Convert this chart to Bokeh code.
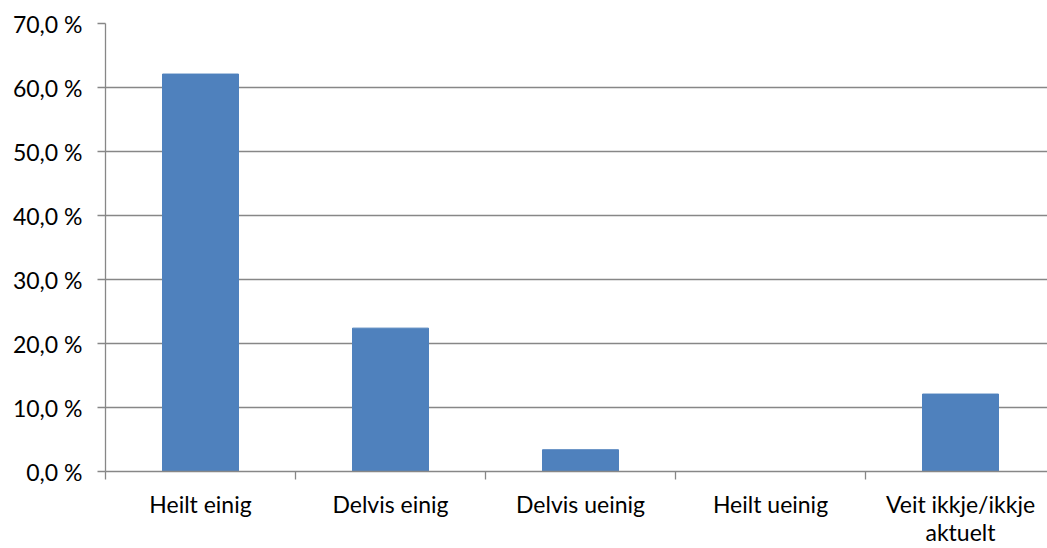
from bokeh.plotting import figure
from bokeh.models import Range1d, FixedTicker, ColumnDataSource
from bokeh.embed import file_html
from bokeh.resources import INLINE

categories = ["Heilt einig", "Delvis einig", "Delvis ueinig", "Heilt ueinig", "Veit ikkje/ikkje\naktuelt"]
values = [62.1, 22.4, 3.4, 0.0, 12.1]
y_ticks = [0, 10, 20, 30, 40, 50, 60, 70]
y_tick_labels = ["0,0 %", "10,0 %", "20,0 %", "30,0 %", "40,0 %", "50,0 %", "60,0 %", "70,0 %"]

n = len(categories)
centers = [i + 0.5 for i in range(n)]
bounds = [float(i) for i in range(n + 1)]

FONT = "Lato"
GRID = "#878787"
BAR = "#4F81BD"

p = figure(width=1047, height=548, output_backend="svg", toolbar_location=None,
           x_range=Range1d(0, n * 942 / 950), y_range=Range1d(0, 70),
           min_border_left=105, min_border_right=0, min_border_top=23, min_border_bottom=77)
p.outline_line_color = None
p.background_fill_color = "white"
p.border_fill_color = "white"

src = ColumnDataSource(dict(x=centers, top=values))
p.vbar(x="x", top="top", width=0.4, bottom=0, source=src, fill_color=BAR, line_color=BAR)

p.xgrid.visible = False
p.ygrid.ticker = FixedTicker(ticks=y_ticks)
p.ygrid.grid_line_color = GRID
p.ygrid.grid_line_width = 1.3

ya = p.yaxis[0]
ya.ticker = FixedTicker(ticks=y_ticks)
ya.major_label_overrides = {t: l for t, l in zip(y_ticks, y_tick_labels)}
ya.axis_line_color = GRID
ya.axis_line_width = 1.3
ya.major_tick_line_color = GRID
ya.major_tick_line_width = 1.3
ya.major_tick_in = 0
ya.major_tick_out = 8
ya.minor_tick_line_color = None
ya.major_label_text_font = FONT
ya.major_label_text_font_size = "23px"
ya.major_label_text_color = "black"
ya.major_label_standoff = 15

xa = p.xaxis[0]
xa.ticker = FixedTicker(ticks=centers, minor_ticks=bounds)
xa.major_label_overrides = {c: l for c, l in zip(centers, categories)}
xa.axis_line_color = GRID
xa.axis_line_width = 1.3
xa.major_tick_line_color = None
xa.minor_tick_line_color = GRID
xa.minor_tick_line_width = 1.3
xa.minor_tick_in = 0
xa.minor_tick_out = 8
xa.major_label_text_font = FONT
xa.major_label_text_font_size = "23px"
xa.major_label_text_line_height = 1.0
xa.major_label_text_color = "black"
xa.major_label_standoff = 10

open("out.html", "w").write(file_html(p, INLINE))
